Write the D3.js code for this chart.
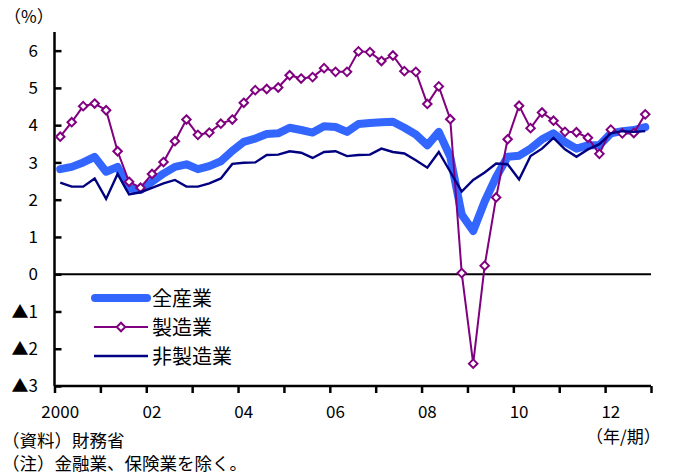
<!DOCTYPE html>
<html>
<head>
<meta charset="utf-8">
<script src="https://cdn.jsdelivr.net/npm/d3@7"></script>
<style>
  html, body { margin: 0; padding: 0; background: #fff; }
  svg { display: block; }
  text { font-family: "Noto Sans CJK JP", "Noto Sans", sans-serif; fill: #000; }
</style>
</head>
<body>
<svg id="chart" width="673" height="476"></svg>
<script>
// Quarterly categories 2000Q1 - 2012Q4
const years = [2000, 2001, 2002, 2003, 2004, 2005, 2006, 2007, 2008, 2009, 2010, 2011, 2012];
const quarters = ["Q1", "Q2", "Q3", "Q4"];
const categories = years.flatMap(y => quarters.map(q => y + q));

// Year axis labels (shown under the first quarter of even years)
const yearLabels = ["2000", "02", "04", "06", "08", "10", "12"];
const yearLabelCats = ["2000Q1", "2002Q1", "2004Q1", "2006Q1", "2008Q1", "2010Q1", "2012Q1"];

// Y ticks and labels (▲ marks negative values)
const yTicks = [6, 5, 4, 3, 2, 1, 0, -1, -2, -3];
const yTickLabels = ["6", "5", "4", "3", "2", "1", "0", "▲1", "▲2", "▲3"];

// 全産業 (all industries)
const allIndustries = [
  2.82, 2.88, 3.00, 3.15, 2.75, 2.88, 2.30, 2.26,
  2.48, 2.70, 2.88, 2.95, 2.82, 2.90, 3.03, 3.31,
  3.55, 3.64, 3.76, 3.78, 3.93, 3.87, 3.80, 3.97,
  3.95, 3.82, 4.03, 4.06, 4.08, 4.09, 3.93, 3.75,
  3.46, 3.82, 3.15, 1.60, 1.16, 1.95, 2.61, 3.15,
  3.18, 3.37, 3.62, 3.78, 3.55, 3.37, 3.46, 3.46,
  3.78, 3.84, 3.87, 3.95
];

// 製造業 (manufacturing)
const manufacturing = [
  3.69, 4.08, 4.51, 4.58, 4.40, 3.30, 2.48, 2.32,
  2.69, 3.01, 3.57, 4.15, 3.74, 3.80, 4.04, 4.15,
  4.60, 4.94, 4.97, 5.01, 5.34, 5.25, 5.29, 5.53,
  5.43, 5.43, 5.98, 5.96, 5.72, 5.87, 5.45, 5.43,
  4.57, 5.04, 4.16, 0.03, -2.40, 0.23, 2.06, 3.62,
  4.52, 3.92, 4.34, 4.12, 3.82, 3.81, 3.66, 3.23,
  3.88, 3.78, 3.79, 4.29
];

// 非製造業 (non-manufacturing)
const nonManufacturing = [
  2.46, 2.35, 2.35, 2.57, 2.02, 2.69, 2.14, 2.20,
  2.32, 2.44, 2.53, 2.35, 2.35, 2.44, 2.57, 2.96,
  2.99, 3.00, 3.20, 3.21, 3.30, 3.26, 3.12, 3.28,
  3.30, 3.17, 3.20, 3.21, 3.37, 3.28, 3.24, 3.06,
  2.86, 3.28, 2.75, 2.22, 2.53, 2.73, 2.97, 2.95,
  2.54, 3.17, 3.37, 3.66, 3.35, 3.15, 3.35, 3.49,
  3.78, 3.84, 3.82, 3.84
];

const seriesNames = ["全産業", "製造業", "非製造業"];

const svg = d3.select("#chart");
const plotLeft = 54.5, plotRight = 651, plotTop = 32, plotBottom = 386;

const x = d3.scaleBand().domain(categories).range([plotLeft, plotRight]).padding(0);
const xc = c => x(c) + x.bandwidth() / 2;
const y = d3.scaleLinear().domain([-3, 6.5]).range([plotBottom, plotTop]);

// Zero line
svg.append("line")
  .attr("x1", plotLeft).attr("x2", plotRight)
  .attr("y1", y(0)).attr("y2", y(0))
  .attr("stroke", "#000").attr("stroke-width", 2);

// Y axis: ticks point into the plot
const yAxis = d3.axisRight(y).tickValues(yTicks).tickSize(7).tickFormat("");
const gy = svg.append("g").attr("transform", `translate(${plotLeft},0)`).call(yAxis);
gy.select(".domain").attr("stroke", "#000").attr("stroke-width", 2.5)
  .attr("d", `M0,${plotTop}V${plotBottom}`);
gy.selectAll(".tick line").attr("stroke", "#000").attr("stroke-width", 2.5);

svg.append("g").selectAll("text")
  .data(yTicks)
  .join("text")
  .attr("x", 38)
  .attr("y", d => y(d))
  .attr("dy", "0.36em")
  .attr("text-anchor", "end")
  .attr("font-size", 17)
  .text((d, i) => yTickLabels[i]);

// X axis: year boundaries
const yearEdges = years.map(yr => x(yr + "Q1")).concat([plotRight]);
const xEdgeScale = d3.scaleIdentity().domain([plotLeft, plotRight]);
const xAxis = d3.axisBottom(xEdgeScale).tickValues(yearEdges).tickSize(7).tickFormat("");
const gx = svg.append("g").attr("transform", `translate(0,${plotBottom})`).call(xAxis);
gx.select(".domain").attr("stroke", "#000").attr("stroke-width", 2.5)
  .attr("d", `M${plotLeft},0H${plotRight}`);
gx.selectAll(".tick line").attr("stroke", "#000").attr("stroke-width", 2.5);

svg.append("g").selectAll("text")
  .data(yearLabels)
  .join("text")
  .attr("x", (d, i) => xc(yearLabelCats[i]))
  .attr("y", 418)
  .attr("text-anchor", "middle")
  .attr("font-size", 17)
  .text(d => d);

const line = d3.line()
  .x((d, i) => xc(categories[i]))
  .y(d => y(d));

// 全産業
svg.append("path")
  .datum(allIndustries)
  .attr("d", line)
  .attr("fill", "none")
  .attr("stroke", "#3366FF")
  .attr("stroke-width", 8)
  .attr("stroke-linejoin", "round")
  .attr("stroke-linecap", "round");

// 製造業
svg.append("path")
  .datum(manufacturing)
  .attr("d", line)
  .attr("fill", "none")
  .attr("stroke", "#800080")
  .attr("stroke-width", 2);

const diamond = d3.symbol().type(d3.symbolDiamond2).size(46);
svg.append("g").selectAll("path")
  .data(manufacturing)
  .join("path")
  .attr("transform", (d, i) => `translate(${xc(categories[i])},${y(d)})`)
  .attr("d", diamond)
  .attr("fill", "#fff")
  .attr("stroke", "#800080")
  .attr("stroke-width", 2);

// 非製造業
svg.append("path")
  .datum(nonManufacturing)
  .attr("d", line)
  .attr("fill", "none")
  .attr("stroke", "#000080")
  .attr("stroke-width", 2.4);

// Legend
const legend = svg.append("g");
const legendRows = [298, 327, 356];
legend.append("line")
  .attr("x1", 95).attr("x2", 147).attr("y1", legendRows[0]).attr("y2", legendRows[0])
  .attr("stroke", "#3366FF").attr("stroke-width", 8).attr("stroke-linecap", "round");
legend.append("line")
  .attr("x1", 94).attr("x2", 148).attr("y1", legendRows[1]).attr("y2", legendRows[1])
  .attr("stroke", "#800080").attr("stroke-width", 2);
legend.append("path")
  .attr("transform", `translate(121,${legendRows[1]})`)
  .attr("d", diamond)
  .attr("fill", "#fff").attr("stroke", "#800080").attr("stroke-width", 2);
legend.append("line")
  .attr("x1", 94).attr("x2", 148).attr("y1", legendRows[2]).attr("y2", legendRows[2])
  .attr("stroke", "#000080").attr("stroke-width", 2.4);
legend.selectAll("text")
  .data(seriesNames)
  .join("text")
  .attr("x", 152)
  .attr("y", (d, i) => legendRows[i])
  .attr("dy", "0.38em")
  .attr("font-size", 20)
  .text(d => d);

// Unit labels and notes
svg.append("text").attr("x", 4).attr("y", 23).attr("font-size", 17).text("（%）");
svg.append("text").attr("x", 586).attr("y", 443).attr("font-size", 17).text("（年/期）");
svg.append("text").attr("x", 2).attr("y", 447).attr("font-size", 17.5).text("（資料）財務省");
svg.append("text").attr("x", 2).attr("y", 470).attr("font-size", 17.5).text("（注）金融業、保険業を除く。");
</script>
</body>
</html>
